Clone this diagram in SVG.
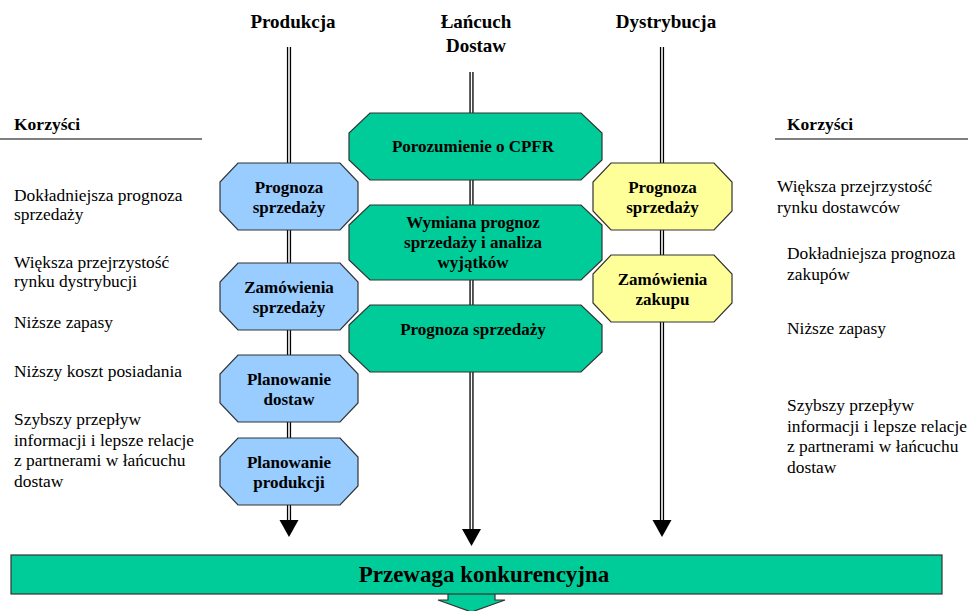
<svg xmlns="http://www.w3.org/2000/svg" width="968" height="611" viewBox="0 0 968 611">
  <style>
    .hdr { font-family: "Liberation Serif", "Times New Roman", serif; font-weight: bold; font-size: 19px; fill: #000; text-anchor: middle; }
    .ben-h { font-family: "Liberation Serif", "Times New Roman", serif; font-weight: bold; font-size: 17.5px; fill: #000; }
    .ben { font-family: "Liberation Serif", "Times New Roman", serif; font-size: 17.4px; fill: #000; }
    .lbl { font-family: "Liberation Serif", "Times New Roman", serif; font-weight: bold; font-size: 17px; fill: #000; text-anchor: middle; }
    .big { font-family: "Liberation Serif", "Times New Roman", serif; font-weight: bold; font-size: 23px; fill: #000; text-anchor: middle; }
    .rail-o { stroke: #000; stroke-width: 4.2; fill: none; }
    .rail-i { stroke: #fff; stroke-width: 1.6; fill: none; }
    .head { fill: #000; }
    .rule { stroke: #555; stroke-width: 1.3; }
    .blue { fill: #99CCFF; stroke: #333; stroke-width: 1.2; }
    .green { fill: #00CC99; stroke: #333; stroke-width: 1.2; }
    .yellow { fill: #FFFF99; stroke: #333; stroke-width: 1.2; }
  </style>

  <!-- column headers -->
  <g id="headers">
    <text class="hdr" x="293" y="28">Produkcja</text>
    <text class="hdr" x="476" y="28">Łańcuch</text>
    <text class="hdr" x="476" y="52">Dostaw</text>
    <text class="hdr" x="666" y="28">Dystrybucja</text>
  </g>

  <!-- double-line flows with arrowheads -->
  <g id="connectors">
    <path class="rail-o" d="M289 47 V521 M471.5 72 V530 M662 47 V521"/>
    <path class="rail-i" d="M289 47 V521 M471.5 72 V530 M662 47 V521"/>
    <polygon class="head" points="279.5,520 298.5,520 289,537"/>
    <polygon class="head" points="462,529 481,529 471.5,546"/>
    <polygon class="head" points="652.5,520 671.5,520 662,537"/>
  </g>

  <!-- left benefits -->
  <g id="benefits-left">
    <text class="ben-h" x="14" y="130">Korzyści</text>
    <line class="rule" x1="0" y1="139" x2="202" y2="139"/>
    <text class="ben" x="14" y="201">Dokładniejsza prognoza</text>
    <text class="ben" x="14" y="220">sprzedaży</text>
    <text class="ben" x="14" y="268">Większa przejrzystość</text>
    <text class="ben" x="14" y="287">rynku dystrybucji</text>
    <text class="ben" x="14" y="328">Niższe zapasy</text>
    <text class="ben" x="14" y="377">Niższy koszt posiadania</text>
    <text class="ben" x="14" y="425">Szybszy przepływ</text>
    <text class="ben" x="14" y="446">informacji i lepsze relacje</text>
    <text class="ben" x="14" y="466">z partnerami w łańcuchu</text>
    <text class="ben" x="14" y="487">dostaw</text>
  </g>

  <!-- right benefits -->
  <g id="benefits-right">
    <text class="ben-h" x="787" y="130">Korzyści</text>
    <line class="rule" x1="775" y1="139" x2="968" y2="139"/>
    <text class="ben" x="777" y="192">Większa przejrzystość</text>
    <text class="ben" x="777" y="213">rynku dostawców</text>
    <text class="ben" x="787" y="259">Dokładniejsza prognoza</text>
    <text class="ben" x="787" y="280">zakupów</text>
    <text class="ben" x="787" y="334">Niższe zapasy</text>
    <text class="ben" x="787" y="411">Szybszy przepływ</text>
    <text class="ben" x="787" y="432">informacji i lepsze relacje</text>
    <text class="ben" x="787" y="452">z partnerami w łańcuchu</text>
    <text class="ben" x="787" y="473">dostaw</text>
  </g>

  <!-- production column -->
  <g id="prod-forecast">
    <polygon class="blue" points="238,163 340,163 358,182 358,211 340,230 238,230 220,211 220,182"/>
    <text class="lbl" x="289" y="193">Prognoza</text>
    <text class="lbl" x="289" y="213">sprzedaży</text>
  </g>
  <g id="prod-orders">
    <polygon class="blue" points="238,263 340,263 358,282 358,311 340,330 238,330 220,311 220,282"/>
    <text class="lbl" x="289" y="293">Zamówienia</text>
    <text class="lbl" x="289" y="313">sprzedaży</text>
  </g>
  <g id="prod-delivery">
    <polygon class="blue" points="238,355 340,355 358,374 358,403 340,422 238,422 220,403 220,374"/>
    <text class="lbl" x="289" y="385">Planowanie</text>
    <text class="lbl" x="289" y="405">dostaw</text>
  </g>
  <g id="prod-planning">
    <polygon class="blue" points="238,438 340,438 358,457 358,486 340,505 238,505 220,486 220,457"/>
    <text class="lbl" x="289" y="468">Planowanie</text>
    <text class="lbl" x="289" y="488">produkcji</text>
  </g>

  <!-- supply chain column -->
  <g id="chain-agreement">
    <polygon class="green" points="370,113 581,113 602,133 602,160 581,180 370,180 349,160 349,133"/>
    <text class="lbl" x="473" y="152">Porozumienie o CPFR</text>
  </g>
  <g id="chain-exchange">
    <polygon class="green" points="370,205 581,205 602,225 602,260 581,280 370,280 349,260 349,225"/>
    <text class="lbl" x="473" y="228">Wymiana prognoz</text>
    <text class="lbl" x="473" y="248">sprzedaży i analiza</text>
    <text class="lbl" x="473" y="268">wyjątków</text>
  </g>
  <g id="chain-forecast">
    <polygon class="green" points="370,305 581,305 602,325 602,352 581,372 370,372 349,352 349,325"/>
    <text class="lbl" x="473" y="335">Prognoza sprzedaży</text>
  </g>

  <!-- distribution column -->
  <g id="dist-forecast">
    <polygon class="yellow" points="611,163 714,163 732,182 732,211 714,230 611,230 593,211 593,182"/>
    <text class="lbl" x="662.5" y="193">Prognoza</text>
    <text class="lbl" x="662.5" y="213">sprzedaży</text>
  </g>
  <g id="dist-orders">
    <polygon class="yellow" points="611,255 714,255 732,274 732,303 714,322 611,322 593,303 593,274"/>
    <text class="lbl" x="662.5" y="285">Zamówienia</text>
    <text class="lbl" x="662.5" y="305">zakupu</text>
  </g>

  <!-- outcome bar and outgoing arrow -->
  <g id="advantage">
    <polygon class="green" points="448,593 495,593 495,600 505,600 471.5,612 438,600 448,600"/>
    <rect class="green" x="11" y="555" width="931" height="39"/>
    <text class="big" x="484" y="582">Przewaga konkurencyjna</text>
  </g>
</svg>
